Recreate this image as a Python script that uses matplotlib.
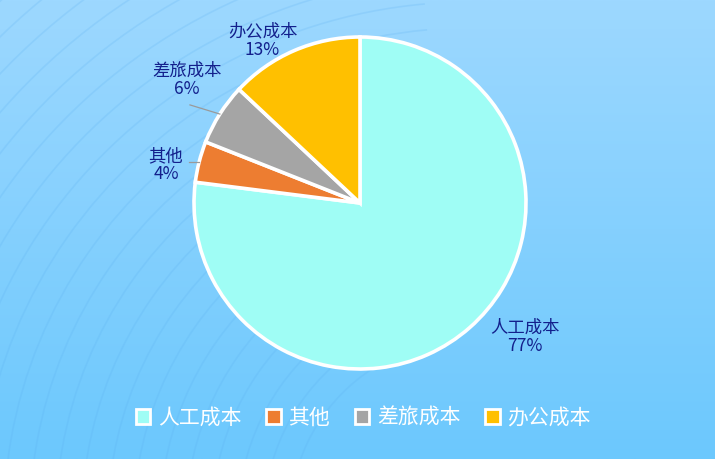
import numpy as np
import matplotlib
matplotlib.use("Agg")
import matplotlib.pyplot as plt
from matplotlib.patches import Arc

plt.rcParams['font.family'] = ['Noto Sans CJK SC', 'DejaVu Sans']

# data
categories = ["人工成本", "其他", "差旅成本", "办公成本"]
shares = [77, 4, 6, 13]
colors = ["#9ffdf5", "#ed7d31", "#a5a5a5", "#ffc000"]

W, H = 715, 459
CX, CY, R = 360, 203, 166   # pie centre / radius in pixels

fig = plt.figure(figsize=(W / 100, H / 100), dpi=100)

# background gradient + faint decorative arcs
bg = fig.add_axes([0, 0, 1, 1])
grad = np.linspace(0, 1, 256)[:, None]
top = np.array([0x9d, 0xd8, 0xff]) / 255
bot = np.array([0x6c, 0xc8, 0xfd]) / 255
img = top[None, None, :] * (1 - grad[..., None]) + bot[None, None, :] * grad[..., None]
bg.imshow(img, aspect="auto", extent=[0, W, H, 0])
for rr in range(180, 900, 26):
    bg.add_patch(Arc((470, 520), 2 * rr, 2 * rr, theta1=165, theta2=265,
                     ec="#5aaef0", lw=1.2, alpha=0.2))
bg.set_xlim(0, W); bg.set_ylim(H, 0)
bg.axis("off")

# pie axes: 1 data unit = R pixels
ax = fig.add_axes([0, 0, 1, 1])
wedges, _ = ax.pie(shares, colors=colors, startangle=90, counterclock=False,
                   radius=1.0, wedgeprops=dict(edgecolor="white", linewidth=2.6))
ax.set_xlim(-CX / R, (W - CX) / R)
ax.set_ylim(-(H - CY) / R, CY / R)
ax.set_aspect("equal")
ax.axis("off")

# label placement (angle in degrees, distance in radii)
label_pos = [(-39, 1.28), (169, 1.19), (144.5, 1.28), (121, 1.14)]
label_color = "#13208c"
for (cat, val, (ang, dist)) in zip(categories, shares, label_pos):
    a = np.deg2rad(ang)
    ax.text(dist * np.cos(a), dist * np.sin(a), f"{cat}\n{val}%", ha="center", va="center",
            fontsize=12.5, color=label_color, linespacing=1.0)

# leader lines for the small slices
for w, dx, dy in zip(wedges[1:3], [0.06, 0.18], [0.0, 0.055]):
    mid = np.deg2rad((w.theta1 + w.theta2) / 2)
    x0, y0 = np.cos(mid), np.sin(mid)
    ax.plot([x0, x0 - dx], [y0, y0 + dy], color="#9a9a9a", lw=0.9)

# legend
leg = fig.legend(wedges, categories, loc="lower center", ncol=4, frameon=False,
                 bbox_to_anchor=(0.508, 0.025), fontsize=15, handlelength=0.7,
                 handleheight=0.7, handletextpad=0.35, columnspacing=1.2)
for t in leg.get_texts():
    t.set_color("white")
for h in leg.legend_handles:
    h.set_edgecolor("white")
    h.set_linewidth(2.0)

fig.savefig("out.png", dpi=100)
